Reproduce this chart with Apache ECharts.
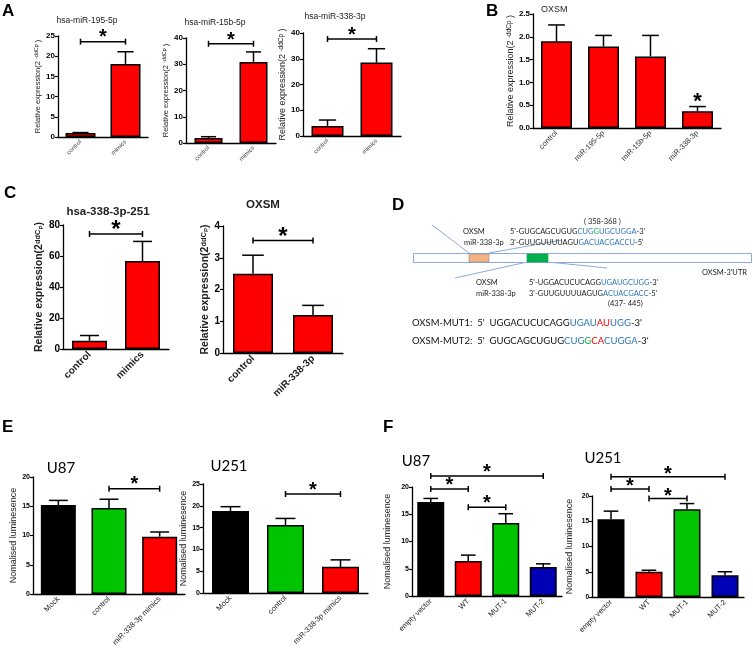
<!DOCTYPE html>
<html><head><meta charset="utf-8">
<script src="https://cdn.jsdelivr.net/npm/echarts@6/dist/echarts.min.js"></script>
<style>html,body{margin:0;padding:0;background:#fff}#c{width:753px;height:659px}</style>
</head><body><div id="c"></div>
<script>
// ---------- data ----------
const catsA = ['control', 'mimics'];
const a195Mean = [1.0, 18.1];
const a195Sd = [0.1, 3.0];
const a15bMean = [1.9, 30.9];
const a15bSd = [0.5, 3.8];
const a338Mean = [3.9, 28.5];
const a338Sd = [2.3, 5.4];
const catsB = ['control', 'miR-195-5p', 'miR-15b-5p', 'miR-338-3p'];
const bMean = [1.90, 1.79, 1.57, 0.37];
const bSd = [0.36, 0.24, 0.46, 0.10];
const catsC1 = ['control', 'mimics'];
const c1Mean = [5.3, 56.7];
const c1Sd = [3.4, 12.7];
const catsC2 = ['control', 'miR-338-3p'];
const c2Mean = [2.5, 1.2];
const c2Sd = [0.58, 0.3];
const catsE = ['Mock', 'control', 'miR-338-3p mimics'];
const eU87Mean = [15.2, 14.7, 9.8];
const eU87Sd = [0.8, 1.5, 0.8];
const eU251Mean = [18.8, 15.6, 6.0];
const eU251Sd = [1.0, 1.5, 1.6];
const catsF = ['empty vector', 'WT', 'MUT-1', 'MUT-2'];
const fU87Mean = [17.25, 6.4, 13.4, 5.3];
const fU87Sd = [0.65, 1.1, 1.7, 0.6];
const fU251Mean = [15.4, 5.0, 17.4, 4.3];
const fU251Sd = [1.6, 0.3, 1.1, 0.7];
// significance brackets: [fromCat, toCat, height]
const bracketsA195 = [[0, 1, 23.6]];
const bracketsA15b = [[0, 1, 37.8]];
const bracketsA338 = [[0, 1, 37.7]];
const starB = [[3, 0.68]];
const bracketsC1 = [[0, 1, 74.2]];
const bracketsC2 = [[0, 1, 3.54]];
const bracketsEU87 = [[1, 2, 18.0]];
const bracketsEU251 = [[1, 2, 22.7]];
const bracketsFU87 = [[0, 3, 22.0], [0, 1, 19.65], [1, 2, 16.3]];
const bracketsFU251 = [[0, 3, 23.8], [0, 1, 21.4], [1, 2, 19.5]];

// ---------- styling ----------
const FF = 'Liberation Sans';
const RED = '#ff0000', GREEN = '#00c400', BLUE = '#0000b4', BLACK = '#000000';
const grids = [], xAxes = [], yAxes = [], series = [];

function errItem(bw) {
  return function (params, api) {
    const x = api.value(0), m = api.value(1), s = api.value(2);
    const p0 = api.coord([x, m]), p1 = api.coord([x, m + s]);
    const c = bw * 0.27;
    return { type: 'group', children: [
      { type: 'line', shape: { x1: p0[0], y1: p0[1], x2: p1[0], y2: p1[1] }, style: { stroke: '#000', lineWidth: 1.5 } },
      { type: 'line', shape: { x1: p1[0] - c, y1: p1[1], x2: p1[0] + c, y2: p1[1] }, style: { stroke: '#000', lineWidth: 1.5 } }
    ] };
  };
}
// glyph '*' sits high in its em box: its visual centre is ~0.24em above the text middle
function brItem(starSize, lift) {
  return function (params, api) {
    const a = api.coord([api.value(0), api.value(2)]);
    const b = api.coord([api.value(1), api.value(2)]);
    const y = a[1];
    return { type: 'group', children: [
      { type: 'line', shape: { x1: a[0], y1: y, x2: b[0], y2: y }, style: { stroke: '#000', lineWidth: 1.5 } },
      { type: 'line', shape: { x1: a[0], y1: y - 3, x2: a[0], y2: y + 3 }, style: { stroke: '#000', lineWidth: 1.5 } },
      { type: 'line', shape: { x1: b[0], y1: y - 3, x2: b[0], y2: y + 3 }, style: { stroke: '#000', lineWidth: 1.5 } },
      { type: 'text', style: { text: '*', x: (a[0] + b[0]) / 2, y: y - lift + starSize * 0.24, align: 'center', verticalAlign: 'middle', fontSize: starSize, fontWeight: 'bold', fontFamily: FF, fill: '#000' } }
    ] };
  };
}
function starItem(starSize) {
  return function (params, api) {
    const p = api.coord([api.value(0), api.value(1)]);
    return { type: 'text', style: { text: '*', x: p[0], y: p[1] + starSize * 0.24, align: 'center', verticalAlign: 'middle', fontSize: starSize, fontWeight: 'bold', fontFamily: FF, fill: '#000' } };
  };
}

function panel(o) {
  const gi = grids.length;
  grids.push({ left: o.left, top: o.top, width: o.width, height: o.height });
  xAxes.push({
    type: 'category', gridIndex: gi, data: o.cats,
    axisLine: { lineStyle: { color: '#000', width: 1.3 } },
    axisTick: { alignWithLabel: true, length: 3, lineStyle: { color: '#000', width: 1.2 } },
    axisLabel: { rotate: 45, fontSize: o.xfs, fontWeight: o.xfw || 'normal', color: o.xcol || '#222', margin: 4, fontFamily: FF, interval: 0 }
  });
  yAxes.push({
    type: 'value', gridIndex: gi, min: 0, max: o.max, interval: o.interval,
    name: o.yname, nameLocation: 'middle', nameGap: o.nameGap, nameRotate: 90,
    nameTextStyle: { fontFamily: FF, color: '#222', fontSize: o.nfs, fontWeight: o.nfw || 'normal', rich: o.rich },
    axisLine: { show: true, lineStyle: { color: '#000', width: 1.3 } },
    axisTick: { show: true, length: 3, lineStyle: { color: '#000', width: 1.2 } },
    splitLine: { show: false },
    axisLabel: { fontSize: o.yfs, fontWeight: 'bold', color: '#000', margin: 3, fontFamily: FF, formatter: o.yfmt }
  });
  series.push({
    type: 'bar', xAxisIndex: gi, yAxisIndex: gi, barWidth: o.bw, silent: true,
    data: o.mean.map((v, i) => ({ value: v, itemStyle: { color: o.colors ? o.colors[i] : RED } })),
    itemStyle: { borderColor: '#000', borderWidth: 1.5 }
  });
  series.push({
    type: 'custom', xAxisIndex: gi, yAxisIndex: gi, silent: true, z: 5,
    data: o.mean.map((m, i) => [i, m, o.sd[i]]), renderItem: errItem(o.bw)
  });
  if (o.brackets) series.push({
    type: 'custom', xAxisIndex: gi, yAxisIndex: gi, silent: true, z: 6, clip: false,
    encode: { x: [0, 1], y: 2 }, data: o.brackets, renderItem: brItem(o.star, o.lift || 9)
  });
  if (o.stars) series.push({
    type: 'custom', xAxisIndex: gi, yAxisIndex: gi, silent: true, z: 6, clip: false,
    data: o.stars, renderItem: starItem(o.star)
  });
}

const relA = '{a|Relative expression(2 }{s|-ddCp}{a| )}';
const richA = (fs) => ({ a: { fontSize: fs, fontFamily: FF, color: '#222' }, s: { fontSize: fs * 0.72, fontFamily: FF, color: '#222', verticalAlign: 'top' } });
const relC = '{a|Relative expression(2}{s|ddC}{p|P}{a|)}';
const richC = {
  a: { fontSize: 10.5, fontWeight: 'bold', fontFamily: FF, color: '#222' },
  s: { fontSize: 7.5, fontWeight: 'bold', fontFamily: FF, color: '#222', verticalAlign: 'top' },
  p: { fontSize: 6, fontWeight: 'bold', fontFamily: FF, color: '#222', verticalAlign: 'top', padding: [4, 0, 0, 0] }
};
const lum = 'Nomalised luminesence';

panel({ left: 58, top: 36, width: 90, height: 101, cats: catsA, mean: a195Mean, sd: a195Sd, max: 25, interval: 5, bw: 30,
  yname: relA, rich: richA(7.5), nfs: 7.5, nameGap: 15, xfs: 6, xcol: '#444', yfs: 8, brackets: bracketsA195, star: 20, lift: 9 });
panel({ left: 186, top: 38, width: 90, height: 105, cats: catsA, mean: a15bMean, sd: a15bSd, max: 40, interval: 10, bw: 28,
  yname: relA, rich: richA(7.5), nfs: 7.5, nameGap: 10, xfs: 6, xcol: '#444', yfs: 8, brackets: bracketsA15b, star: 20, lift: 8 });
panel({ left: 303, top: 33, width: 98, height: 103, cats: catsA, mean: a338Mean, sd: a338Sd, max: 40, interval: 10, bw: 32,
  yname: relA, rich: richA(9), nfs: 9, nameGap: 12, xfs: 6, xcol: '#444', yfs: 8, brackets: bracketsA338, star: 20, lift: 8 });
panel({ left: 533, top: 14, width: 188, height: 114, cats: catsB, mean: bMean, sd: bSd, max: 2.5, interval: 0.5, bw: 31,
  yname: relA, rich: richA(9), nfs: 9, nameGap: 17, xfs: 7.5, xcol: '#333', yfs: 8, yfmt: v => v.toFixed(1), stars: starB, star: 22 });
panel({ left: 63, top: 225, width: 106, height: 124, cats: catsC1, mean: c1Mean, sd: c1Sd, max: 80, interval: 20, bw: 35,
  yname: relC, rich: richC, nfs: 10.5, nfw: 'bold', nameGap: 13, xfs: 10, xfw: 'bold', yfs: 10, brackets: bracketsC1, star: 24, lift: 9 });
panel({ left: 223, top: 226, width: 120, height: 127, cats: catsC2, mean: c2Mean, sd: c2Sd, max: 4, interval: 1, bw: 40,
  yname: relC, rich: richC, nfs: 10.5, nfw: 'bold', nameGap: 9, xfs: 10, xfw: 'bold', yfs: 10, brackets: bracketsC2, star: 24, lift: 9 });
panel({ left: 33, top: 477, width: 152, height: 117, cats: catsE, mean: eU87Mean, sd: eU87Sd, max: 20, interval: 5, bw: 35,
  colors: [BLACK, GREEN, RED], yname: lum, nfs: 9, nameGap: 12, xfs: 7.5, yfs: 7, brackets: bracketsEU87, star: 20, lift: 9 });
panel({ left: 203, top: 484, width: 165, height: 109, cats: catsE, mean: eU251Mean, sd: eU251Sd, max: 25, interval: 5, bw: 37,
  colors: [BLACK, GREEN, RED], yname: lum, nfs: 9, nameGap: 12, xfs: 7.5, yfs: 7, brackets: bracketsEU251, star: 20, lift: 8 });
panel({ left: 412, top: 487, width: 150, height: 109, cats: catsF, mean: fU87Mean, sd: fU87Sd, max: 20, interval: 5, bw: 27,
  colors: [BLACK, RED, GREEN, BLUE], yname: lum, nfs: 9, nameGap: 20, xfs: 7.5, yfs: 7, brackets: bracketsFU87, star: 20, lift: 8 });
panel({ left: 592, top: 496, width: 152, height: 101, cats: catsF, mean: fU251Mean, sd: fU251Sd, max: 20, interval: 5, bw: 27,
  colors: [BLACK, RED, GREEN, BLUE], yname: lum, nfs: 9, nameGap: 18, xfs: 7.5, yfs: 6.5, brackets: bracketsFU251, star: 20, lift: 7 });

// ---------- text / diagram ----------
function T(text, x, y, fs, opt) {
  opt = opt || {};
  return { type: 'text', x: x, y: y, silent: true, style: Object.assign({ text: text, fontSize: fs, fontFamily: opt.ff || FF, fontWeight: opt.fw || 'normal', fill: opt.fill || '#000', align: opt.align || 'left', verticalAlign: 'middle' }, opt.style || {}) };
}
const SB = '#2e75b6', SG = '#00b050', SR = '#ff0000';
const seqRich = (fs) => ({ b: { fill: SB, fontSize: fs, fontFamily: 'Lato' }, g: { fill: SG, fontSize: fs, fontFamily: 'Lato' }, r: { fill: SR, fontSize: fs, fontFamily: 'Lato' } });
const LC = '#8faadc';
const graphics = [
  T('A', 2, 11, 17, { fw: 'bold' }),
  T('B', 486, 11, 17, { fw: 'bold' }),
  T('C', 4, 193, 17, { fw: 'bold' }),
  T('D', 392, 205, 17, { fw: 'bold' }),
  T('E', 2, 427, 17, { fw: 'bold' }),
  T('F', 383, 427, 17, { fw: 'bold' }),
  T('hsa-miR-195-5p', 87, 21, 8.5, { align: 'center', fill: '#222' }),
  T('hsa-miR-15b-5p', 215, 23, 8.5, { align: 'center', fill: '#222' }),
  T('hsa-miR-338-3p', 335, 17, 8.5, { align: 'center', fill: '#222' }),
  T('OXSM', 541, 10, 9, { fill: '#222' }),
  T('hsa-338-3p-251', 108, 212, 11.5, { align: 'center', fw: 'bold', fill: '#222' }),
  T('OXSM', 263, 205, 11.5, { align: 'center', fw: 'bold', fill: '#222' }),
  T('U87', 61, 468, 15, { align: 'center', ff: 'Lato' }),
  T('U251', 229, 466, 15, { align: 'center', ff: 'Lato' }),
  T('U87', 416, 461, 15, { align: 'center', ff: 'Lato' }),
  T('U251', 603, 458, 15, { align: 'center', ff: 'Lato' }),
  // panel D diagram
  { type: 'line', silent: true, shape: { x1: 432, y1: 225, x2: 469, y2: 253 }, style: { stroke: LC, lineWidth: 1 } },
  { type: 'line', silent: true, shape: { x1: 489, y1: 253, x2: 562, y2: 240 }, style: { stroke: LC, lineWidth: 1 } },
  { type: 'line', silent: true, shape: { x1: 527, y1: 262, x2: 455, y2: 278 }, style: { stroke: LC, lineWidth: 1 } },
  { type: 'line', silent: true, shape: { x1: 548, y1: 262, x2: 607, y2: 268 }, style: { stroke: LC, lineWidth: 1 } },
  { type: 'rect', silent: true, shape: { x: 413.5, y: 253.5, width: 338, height: 9 }, style: { fill: '#fff', stroke: LC, lineWidth: 1 } },
  { type: 'rect', silent: true, shape: { x: 469, y: 254, width: 20, height: 8 }, style: { fill: '#f4b183', stroke: '#8a8a8a', lineWidth: 0.6 } },
  { type: 'rect', silent: true, shape: { x: 527, y: 254, width: 21, height: 8 }, style: { fill: '#00b050', stroke: '#00a040', lineWidth: 0.6 } },
  T('( 358-368 )', 584, 222, 7.5, { ff: 'Lato', fill: '#222' }),
  T('OXSM', 463, 232, 7.5, { ff: 'Lato', fill: '#222' }),
  T('5\'-GUGCAGCUGUG{b|CUG}{g|G}{b|UGCUGGA}-3\'', 510, 232, 7.5, { ff: 'Lato', fill: '#222', style: { rich: seqRich(7.5) } }),
  T('miR-338-3p', 464, 243, 7.5, { ff: 'Lato', fill: '#222' }),
  T('3\'-GUUGUUUUAGU{b|GACUACGACCU}-5\'', 510, 243, 7.5, { ff: 'Lato', fill: '#222', style: { rich: seqRich(7.5) } }),
  T('OXSM-3\'UTR', 702, 273, 7.5, { ff: 'Lato', fill: '#222' }),
  T('OXSM', 476, 283, 7.5, { ff: 'Lato', fill: '#222' }),
  T('5\'-UGGACUCUCAGG{b|UGAUGCUGG}-3\'', 529, 283, 7.5, { ff: 'Lato', fill: '#222', style: { rich: seqRich(7.5) } }),
  T('miR-338-3p', 476, 294, 7.5, { ff: 'Lato', fill: '#222' }),
  T('3\'-GUUGUUUUAGUG{b|ACUACGACC}-5\'', 529, 294, 7.5, { ff: 'Lato', fill: '#222', style: { rich: seqRich(7.5) } }),
  T('(437- 445)', 608, 304, 7.5, { ff: 'Lato', fill: '#222' }),
  T('OXSM-MUT1:  5\'  UGGACUCUCAGG{b|UGAU}{r|AU}{b|UGG}-3\'', 412, 323, 9.5, { ff: 'Lato', fill: '#111', style: { rich: seqRich(9.5) } }),
  T('OXSM-MUT2:  5\'  GUGCAGCUGUG{b|CUG}{g|G}{r|CA}{b|CUGGA}-3\'', 412, 341, 9.5, { ff: 'Lato', fill: '#111', style: { rich: seqRich(9.5) } })
];

const chart = echarts.init(document.getElementById('c'), null, { renderer: 'canvas' });
chart.setOption({
  animation: false,
  backgroundColor: '#fff',
  grid: grids, xAxis: xAxes, yAxis: yAxes, series: series,
  graphic: graphics
});
</script></body></html>
